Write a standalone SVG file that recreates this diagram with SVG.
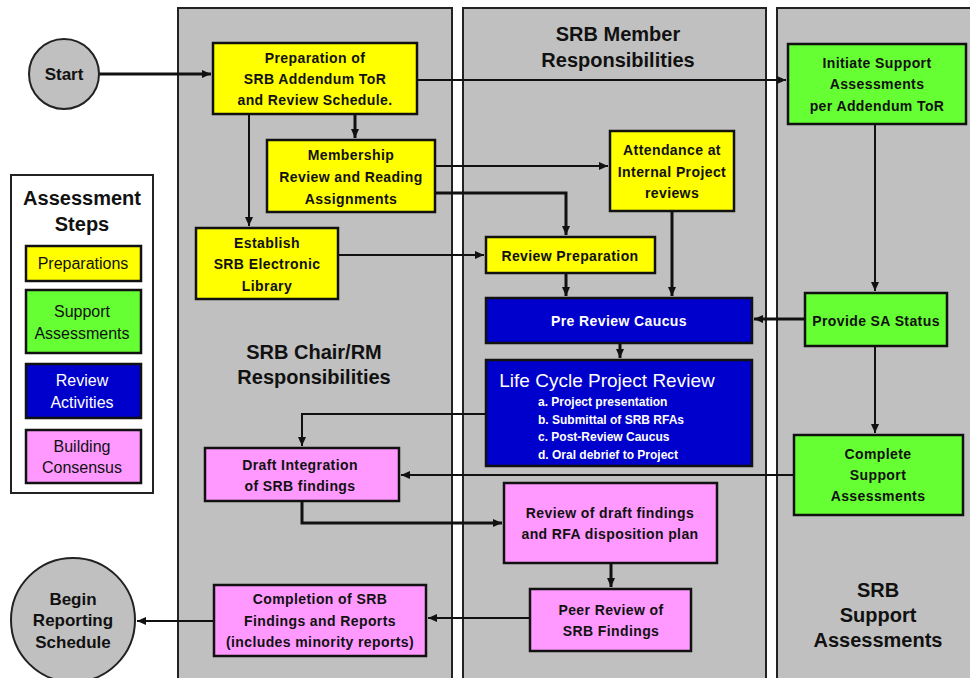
<svg xmlns="http://www.w3.org/2000/svg" width="970" height="678" viewBox="0 0 970 678">
<style>
.lane{fill:#c0c0c0;stroke:#222;stroke-width:2}
.box{stroke:#111;stroke-width:2.5}
.y{fill:#ffff00}.g{fill:#66ff33}.b{fill:#0000cc}.p{fill:#ff99ff}
.t{font-family:"Liberation Sans Narrow","Liberation Sans",Arial,sans-serif;font-weight:bold;font-size:14px;fill:#111;text-anchor:middle;letter-spacing:0.4px}
.h{font-family:"Liberation Sans",Arial,sans-serif;font-weight:bold;font-size:20px;fill:#111;text-anchor:middle}
.lg{font-family:"Liberation Sans",Arial,sans-serif;font-size:16px;fill:#111;text-anchor:middle}
.w{fill:#fff}
.c{fill:none;stroke:#111;stroke-width:2}
.k{stroke-width:3}
</style>
<defs>
<marker id="a" markerUnits="userSpaceOnUse" markerWidth="10" markerHeight="10" refX="9" refY="5" orient="auto">
<path d="M0,1 L9,5 L0,9 Z" fill="#111"/>
</marker>
</defs>
<rect width="970" height="678" fill="#fff"/>
<g id="lanes">
<rect class="lane" x="178" y="8" width="274" height="672"/>
<rect class="lane" x="463" y="8" width="303" height="672"/>
<rect class="lane" x="777" y="8" width="200" height="672"/>
<text class="h" x="618" y="41">SRB Member</text>
<text class="h" x="618" y="67">Responsibilities</text>
<text class="h" x="314" y="359">SRB Chair/RM</text>
<text class="h" x="314" y="384">Responsibilities</text>
<text class="h" x="878" y="597">SRB</text>
<text class="h" x="878" y="622">Support</text>
<text class="h" x="878" y="647">Assessments</text>
</g>
<g id="legend">
<rect x="11" y="175" width="142" height="318" fill="#fff" stroke="#222" stroke-width="2"/>
<text class="h" x="82" y="205">Assessment</text>
<text class="h" x="82" y="231">Steps</text>
<rect class="box y" x="26" y="246" width="115" height="35" stroke-width="2"/>
<text class="lg" x="83" y="269">Preparations</text>
<rect class="box g" x="26" y="290" width="115" height="63" stroke-width="2"/>
<text class="lg" x="82" y="317">Support</text>
<text class="lg" x="82" y="339">Assessments</text>
<rect class="box b" x="26" y="364" width="115" height="54" stroke-width="2"/>
<text class="lg w" x="82" y="386">Review</text>
<text class="lg w" x="82" y="408">Activities</text>
<rect class="box p" x="26" y="430" width="115" height="53" stroke-width="2"/>
<text class="lg" x="82" y="452">Building</text>
<text class="lg" x="82" y="473">Consensus</text>
</g>
<g id="connectors">
<path class="c k" d="M99,74 H211" marker-end="url(#a)"/>
<path class="c" d="M417,80 H786" marker-end="url(#a)"/>
<path class="c k" d="M355,114 V138" marker-end="url(#a)"/>
<path class="c" d="M249,114 V226" marker-end="url(#a)"/>
<path class="c" d="M435,166 H608" marker-end="url(#a)"/>
<path class="c k" d="M435,193 H566 V235" marker-end="url(#a)"/>
<path class="c" d="M338,255 H484" marker-end="url(#a)"/>
<path class="c k" d="M672,211 V296" marker-end="url(#a)"/>
<path class="c k" d="M566,273 V296" marker-end="url(#a)"/>
<path class="c" d="M875,124 V291" marker-end="url(#a)"/>
<path class="c k" d="M805,319 H754" marker-end="url(#a)"/>
<path class="c k" d="M620,343 V358" marker-end="url(#a)"/>
<path class="c" d="M486,414 H302 V446" marker-end="url(#a)"/>
<path class="c" d="M875,346 V433" marker-end="url(#a)"/>
<path class="c" d="M794,475 H401" marker-end="url(#a)"/>
<path class="c k" d="M302,501 V523 H502" marker-end="url(#a)"/>
<path class="c k" d="M611,563 V587" marker-end="url(#a)"/>
<path class="c" d="M530,618 H428" marker-end="url(#a)"/>
<path class="c" d="M214,621 H137" marker-end="url(#a)"/>
</g>
<g id="start">
<circle cx="64" cy="74" r="35" fill="#c0c0c0" stroke="#222" stroke-width="2"/>
<text class="lg" x="64" y="80" style="font-weight:bold;font-size:17px">Start</text>
</g>
<g id="begin">
<circle cx="73" cy="620" r="62" fill="#c0c0c0" stroke="#222" stroke-width="2"/>
<text class="lg" x="73" y="605" style="font-weight:bold;font-size:17px">Begin</text>
<text class="lg" x="73" y="626" style="font-weight:bold;font-size:17px">Reporting</text>
<text class="lg" x="73" y="648" style="font-weight:bold;font-size:17px">Schedule</text>
</g>
<g id="prep">
<rect class="box y" x="213" y="43" width="204" height="71"/>
<text class="t" x="315" y="63">Preparation of</text>
<text class="t" x="315" y="84">SRB Addendum ToR</text>
<text class="t" x="315" y="105">and Review Schedule.</text>
</g>
<g id="membership">
<rect class="box y" x="267" y="140" width="168" height="72"/>
<text class="t" x="351" y="160">Membership</text>
<text class="t" x="351" y="182">Review and Reading</text>
<text class="t" x="351" y="204">Assignments</text>
</g>
<g id="library">
<rect class="box y" x="196" y="228" width="142" height="71"/>
<text class="t" x="267" y="248">Establish</text>
<text class="t" x="267" y="269">SRB Electronic</text>
<text class="t" x="267" y="291">Library</text>
</g>
<g id="attendance">
<rect class="box y" x="610" y="131" width="124" height="80"/>
<text class="t" x="672" y="155">Attendance at</text>
<text class="t" x="672" y="177">Internal Project</text>
<text class="t" x="672" y="198">reviews</text>
</g>
<g id="initiate">
<rect class="box g" x="788" y="44" width="178" height="80"/>
<text class="t" x="877" y="68">Initiate Support</text>
<text class="t" x="877" y="89">Assessments</text>
<text class="t" x="877" y="111">per Addendum ToR</text>
</g>
<g id="reviewprep">
<rect class="box y" x="486" y="237" width="169" height="36"/>
<text class="t" x="570" y="261">Review Preparation</text>
</g>
<g id="precaucus">
<rect class="box b" x="486" y="298" width="266" height="45"/>
<text class="t w" x="619" y="326">Pre Review Caucus</text>
</g>
<g id="provide">
<rect class="box g" x="805" y="293" width="142" height="53"/>
<text class="t" x="876" y="326">Provide SA Status</text>
</g>
<g id="lifecycle">
<rect class="box b" x="486" y="360" width="266" height="106"/>
<text x="607" y="387" style="font-family:'Liberation Sans',Arial,sans-serif;font-size:19px;fill:#fff;text-anchor:middle">Life Cycle Project Review</text>
<text class="t w" x="538" y="406" style="text-anchor:start;font-size:12px;letter-spacing:0">a. Project presentation</text>
<text class="t w" x="538" y="424" style="text-anchor:start;font-size:12px;letter-spacing:0">b. Submittal of SRB RFAs</text>
<text class="t w" x="538" y="441" style="text-anchor:start;font-size:12px;letter-spacing:0">c. Post-Review Caucus</text>
<text class="t w" x="538" y="459" style="text-anchor:start;font-size:12px;letter-spacing:0">d. Oral debrief to Project</text>
</g>
<g id="complete">
<rect class="box g" x="794" y="435" width="169" height="80"/>
<text class="t" x="878" y="459">Complete</text>
<text class="t" x="878" y="480">Support</text>
<text class="t" x="878" y="501">Assessments</text>
</g>
<g id="draft">
<rect class="box p" x="205" y="448" width="194" height="53"/>
<text class="t" x="300" y="470">Draft Integration</text>
<text class="t" x="300" y="491">of SRB findings</text>
</g>
<g id="reviewdraft">
<rect class="box p" x="504" y="483" width="213" height="80"/>
<text class="t" x="610" y="518">Review of draft findings</text>
<text class="t" x="610" y="539">and RFA disposition plan</text>
</g>
<g id="peer">
<rect class="box p" x="530" y="589" width="161" height="62"/>
<text class="t" x="611" y="615">Peer Review of</text>
<text class="t" x="611" y="636">SRB Findings</text>
</g>
<g id="completion">
<rect class="box p" x="214" y="585" width="212" height="71"/>
<text class="t" x="320" y="604">Completion of SRB</text>
<text class="t" x="320" y="626">Findings and Reports</text>
<text class="t" x="320" y="647">(includes minority reports)</text>
</g>
</svg>
